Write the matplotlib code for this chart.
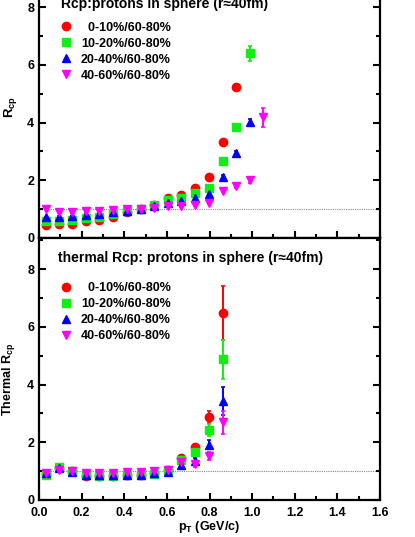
import matplotlib
matplotlib.use("Agg")
import matplotlib.pyplot as plt
from matplotlib.ticker import MultipleLocator, FormatStrFormatter

plt.rcParams['font.family'] = ['Liberation Sans', 'DejaVu Sans']
plt.rcParams['font.weight'] = 'bold'
plt.rcParams['mathtext.fontset'] = 'custom'
plt.rcParams['mathtext.rm'] = 'Liberation Sans:bold'
plt.rcParams['mathtext.it'] = 'Liberation Sans:bold'
plt.rcParams['mathtext.bf'] = 'Liberation Sans:bold'

labels = ['0-10%/60-80%', '10-20%/60-80%', '20-40%/60-80%', '40-60%/60-80%']
colors = ['#ff0000', '#11ee11', '#0000ff', '#ff00ff']
markers = ['o', 's', '^', 'v']
msizes = [6.0, 5.2, 6.4, 6.4]

pt = [0.032, 0.093, 0.155, 0.220, 0.283, 0.348, 0.411, 0.477, 0.540, 0.604,
      0.668, 0.732, 0.798, 0.862, 0.926, 0.988, 1.053]

# top panel: Rcp
rcp_010 = [0.45, 0.47, 0.50, 0.58, 0.63, 0.74, 0.89, 1.00, 1.15, 1.37, 1.50, 1.72, 2.10, 3.32, 5.22]
rcp_1020 = [0.58, 0.60, 0.62, 0.68, 0.72, 0.82, 0.92, 1.02, 1.13, 1.30, 1.38, 1.55, 1.75, 2.67, 3.85, 6.40]
rcp_2040 = [0.72, 0.73, 0.75, 0.80, 0.83, 0.90, 0.95, 1.02, 1.10, 1.22, 1.28, 1.38, 1.52, 2.13, 2.95, 4.02]
rcp_4060 = [1.02, 0.90, 0.90, 0.92, 0.95, 0.98, 1.00, 1.02, 1.05, 1.10, 1.10, 1.15, 1.22, 1.63, 1.80, 2.02, 4.18]
rcp_err_010 = [0.02] * 13 + [0.05, 0.08]
rcp_err_1020 = [0.02] * 13 + [0.05, 0.08, 0.25]
rcp_err_2040 = [0.02] * 13 + [0.05, 0.06, 0.12]
rcp_err_4060 = [0.03] * 13 + [0.05, 0.08, 0.10, 0.33]

# bottom panel: thermal Rcp
th_010 = [0.90, 1.12, 1.00, 0.82, 0.82, 0.82, 0.85, 0.88, 0.92, 1.05, 1.47, 1.85, 2.87, 6.48]
th_1020 = [0.88, 1.15, 1.00, 0.85, 0.82, 0.82, 0.85, 0.88, 0.90, 1.05, 1.38, 1.65, 2.43, 4.88]
th_2040 = [0.95, 1.10, 0.98, 0.88, 0.85, 0.85, 0.88, 0.88, 0.92, 0.98, 1.22, 1.35, 1.92, 3.43]
th_4060 = [0.95, 1.05, 1.00, 0.95, 0.95, 0.95, 0.97, 0.98, 1.02, 1.05, 1.32, 1.25, 1.53, 2.70]
th_err_010 = [0.08] * 10 + [0.08, 0.1, 0.2, 0.93]
th_err_1020 = [0.08] * 10 + [0.08, 0.1, 0.2, 0.68]
th_err_2040 = [0.08] * 10 + [0.08, 0.1, 0.15, 0.48]
th_err_4060 = [0.08] * 10 + [0.08, 0.1, 0.15, 0.40]

top_vals = [rcp_010, rcp_1020, rcp_2040, rcp_4060]
top_errs = [rcp_err_010, rcp_err_1020, rcp_err_2040, rcp_err_4060]
bot_vals = [th_010, th_1020, th_2040, th_4060]
bot_errs = [th_err_010, th_err_1020, th_err_2040, th_err_4060]

fig = plt.figure(figsize=(4.15, 5.37), dpi=100)
W, H = 415.0, 537.0
left = 39 / W
width = 341 / W
ax_h = 262 / H
ax_top = fig.add_axes([left, 1 - 238 / H, width, ax_h])
ax_bot = fig.add_axes([left, 1 - 500 / H, width, ax_h])


def style(ax, show_xlabels):
    ax.set_xlim(0, 1.6)
    ax.set_ylim(0, 9.08)
    ax.xaxis.set_major_locator(MultipleLocator(0.2))
    ax.xaxis.set_minor_locator(MultipleLocator(0.1))
    ax.yaxis.set_major_locator(MultipleLocator(2))
    ax.yaxis.set_minor_locator(MultipleLocator(1))
    ax.tick_params(which='both', direction='in', top=False, right=True, width=1.5,
                   labelsize=9)
    ax.tick_params(which='major', length=5)
    ax.tick_params(which='minor', length=3)
    ax.tick_params(axis='x', pad=5)
    for s in ax.spines.values():
        s.set_linewidth(1.6)
    if not show_xlabels:
        ax.tick_params(labelbottom=False)
    else:
        ax.xaxis.set_major_formatter(FormatStrFormatter('%.1f'))
    ax.axhline(1.0, color='#888888', lw=0.8, ls=(0, (1, 1)), zorder=1)


def draw(ax, vals, errs, leg_y):
    handles = []
    for v, e, c, m, s in zip(vals, errs, colors, markers, msizes):
        n = len(v)
        h = ax.errorbar(pt[:n], v, yerr=e, fmt=m, color=c, ms=s,
                        mec=c, elinewidth=1.4, capsize=1.5, capthick=1.2, zorder=3)
        handles.append(h[0])
    leg_labels = ['  ' + labels[0]] + labels[1:]
    leg = ax.legend(handles, leg_labels, loc='upper left', bbox_to_anchor=(0.0425, leg_y),
                    frameon=False, prop={'weight': 'bold', 'size': 9},
                    handletextpad=0.6, labelspacing=0.32, handlelength=1.2,
                    borderaxespad=0)
    return leg


style(ax_top, False)
style(ax_bot, True)
draw(ax_top, top_vals, top_errs, 0.845)
draw(ax_bot, bot_vals, bot_errs, 0.85)

ax_top.text(0.0645, 0.893, 'Rcp:protons in sphere (r\u224840fm)', transform=ax_top.transAxes,
            fontsize=10, fontweight='bold', va='center')
ax_bot.text(0.0557, 0.924, 'thermal Rcp: protons in sphere (r\u224840fm)', transform=ax_bot.transAxes,
            fontsize=10, fontweight='bold', va='center')

ax_top.set_ylabel(r'R$_{\mathregular{cp}}$', fontsize=9.5, fontweight='bold', labelpad=6)
ax_bot.set_ylabel(r'Thermal R$_{\mathregular{cp}}$', fontsize=9, fontweight='bold', labelpad=7, y=0.462)
ax_bot.set_xlabel(r'p$_{\mathregular{T}}$ (GeV/c)', fontsize=9, fontweight='bold', labelpad=0)

fig.savefig('out.png', dpi=100)
